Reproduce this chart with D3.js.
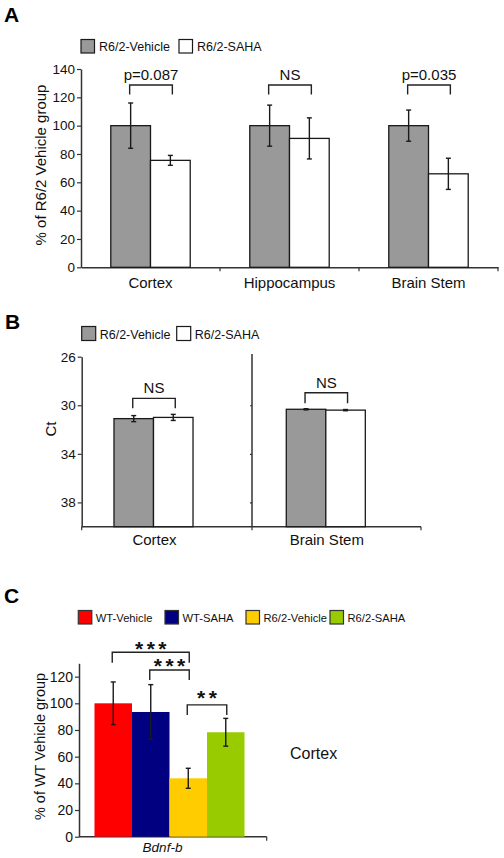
<!DOCTYPE html>
<html>
<head>
<meta charset="utf-8">
<script src="https://cdn.jsdelivr.net/npm/d3@7"></script>
<style>
  html, body { margin: 0; padding: 0; background: #fff; }
  svg { display: block; font-family: "Liberation Sans", Arial, Helvetica, sans-serif; }
</style>
</head>
<body>
<svg id="chart" width="504" height="858"></svg>
<script>
// ---------------- DATA ----------------
// Panel A
const catsA = ["Cortex", "Hippocampus", "Brain Stem"];
const seriesAB = ["R6/2-Vehicle", "R6/2-SAHA"];
const vehicleA = [100, 100, 100];
const vehicleErrA = [16, 14.5, 11];
const sahaA = [75.5, 91, 66];
const sahaErrA = [3.5, 14.5, 11];
const sigA = ["p=0.087", "NS", "p=0.035"];
const ticksA = [0, 20, 40, 60, 80, 100, 120, 140];

// Panel B
const catsB = ["Cortex", "Brain Stem"];
const vehicleB = [31.1, 30.33];
const vehicleErrB = [0.25, 0.05];
const sahaB = [31.0, 30.4];
const sahaErrB = [0.25, 0.05];
const sigB = ["NS", "NS"];
const ticksB = [26, 30, 34, 38];

// Panel C
const groupC = ["Bdnf-b"];
const seriesC = ["WT-Vehicle", "WT-SAHA", "R6/2-Vehicle", "R6/2-SAHA"];
const valuesC = [100, 93.5, 43.8, 78.3];
const errC = [16, 20.5, 7.5, 10.4];
const sigC = ["***", "***", "**"];
const sigPairsC = [[0, 2], [1, 2], [2, 3]];
const ticksC = [0, 20, 40, 60, 80, 100, 120];

// ---------------- STYLE / LAYOUT ----------------
const colorsAB = ["#999999", "#ffffff"];
const colorsC = ["#ff0000", "#000080", "#ffcc00", "#99cc00"];
const ink = "#1a1a1a";
const axisInk = "#333";

const svg = d3.select("#chart");

function styleAxis(g) {
  g.selectAll("path.domain").attr("stroke", axisInk).attr("stroke-width", 1.5);
  g.selectAll(".tick line").attr("stroke", axisInk).attr("stroke-width", 1.2);
  g.selectAll(".tick text").attr("fill", "#111").attr("font-size", 13.5)
    .attr("font-family", '"Liberation Sans", Arial, sans-serif');
}

function errorBar(g, x, y0, y1, capW) {
  g.append("line").attr("x1", x).attr("x2", x).attr("y1", y0).attr("y2", y1)
    .attr("stroke", ink).attr("stroke-width", 1.4);
  [y0, y1].forEach(yy => g.append("line").attr("x1", x - capW / 2).attr("x2", x + capW / 2)
    .attr("y1", yy).attr("y2", yy).attr("stroke", ink).attr("stroke-width", 1.4));
}

function bracket(g, xa, xb, yTop, yEnd) {
  g.append("path")
    .attr("d", `M${xa},${yEnd}V${yTop}H${xb}V${yEnd}`)
    .attr("fill", "none").attr("stroke", "#222").attr("stroke-width", 1.4);
}

function panelLetter(txt, x, y) {
  svg.append("text").attr("x", x).attr("y", y).text(txt)
    .attr("font-size", 21).attr("font-weight", "bold").attr("fill", "#000");
}

function legend(items, colors, xs, y, size, fontSize, stroke, gap) {
  const g = svg.append("g");
  items.forEach((name, i) => {
    g.append("rect").attr("x", xs[i]).attr("y", y).attr("width", size).attr("height", size)
      .attr("fill", colors[i]).attr("stroke", stroke).attr("stroke-width", 1.2);
    g.append("text").attr("x", xs[i] + size + gap).attr("y", y + size - 2)
      .attr("font-size", fontSize).attr("fill", "#111").text(name);
  });
}

// ================= PANEL A =================
panelLetter("A", 4, 22);
legend(seriesAB, colorsAB, [81, 179], 39.5, 13.5, 12.5, ink, 4.5);

const yA = d3.scaleLinear().domain([0, 140]).range([267.3, 69]);
const xA = d3.scaleBand().domain(catsA).range([81, 498]);
const xAi = d3.scaleBand().domain(seriesAB).range([0, xA.bandwidth()]).paddingInner(0).paddingOuter(0.75);

const gAy = svg.append("g").attr("transform", "translate(81,0)")
  .call(d3.axisLeft(yA).tickValues(ticksA).tickSize(4).tickSizeOuter(0).tickPadding(2));
styleAxis(gAy);
const gAx = svg.append("g").attr("transform", `translate(0,${yA(0)})`)
  .call(d3.axisBottom(xA).tickSize(0).tickSizeOuter(0).tickFormat(""));
styleAxis(gAx);
// category boundary ticks
const bndA = catsA.map(c => xA(c)).concat([xA(catsA[catsA.length - 1]) + xA.bandwidth()]);
bndA.forEach((bx, i) => { if (i > 0) svg.append("line").attr("x1", bx).attr("x2", bx)
  .attr("y1", yA(0)).attr("y2", yA(0) + 4).attr("stroke", axisInk).attr("stroke-width", 1.2); });

const gA = svg.append("g");
catsA.forEach((c, i) => {
  const vals = [vehicleA[i], sahaA[i]], errs = [vehicleErrA[i], sahaErrA[i]];
  seriesAB.forEach((s, j) => {
    const x0 = xA(c) + xAi(s);
    gA.append("rect").attr("x", x0).attr("y", yA(vals[j])).attr("width", xAi.bandwidth())
      .attr("height", yA(0) - yA(vals[j])).attr("fill", colorsAB[j])
      .attr("stroke", ink).attr("stroke-width", 1.3);
  });
  seriesAB.forEach((s, j) => {
    const xc = xA(c) + xAi(s) + xAi.bandwidth() / 2;
    errorBar(gA, xc, yA(vals[j] - errs[j]), yA(vals[j] + errs[j]), 5);
  });
  const xa = xA(c) + xAi(seriesAB[0]) + xAi.bandwidth() / 2 - 1;
  const xb = xA(c) + xAi(seriesAB[1]) + xAi.bandwidth() / 2 + 2;
  bracket(gA, xa, xb, yA(128.7), yA(122));
  gA.append("text").attr("x", (xa + xb) / 2).attr("y", yA(132.3)).attr("text-anchor", "middle")
    .attr("font-size", 15).attr("fill", "#111").text(sigA[i]);
  gA.append("text").attr("x", xA(c) + xAi(seriesAB[1])).attr("y", 288).attr("text-anchor", "middle")
    .attr("font-size", 15).attr("fill", "#111").text(c);
});
svg.append("text").attr("transform", "translate(46,165) rotate(-90)").attr("text-anchor", "middle")
  .attr("font-size", 15).attr("fill", "#111").text("% of R6/2 Vehicle group");

// ================= PANEL B =================
panelLetter("B", 5, 329);
legend(seriesAB, colorsAB, [81.7, 176.7], 326.5, 14, 12.5, ink, 4);

const yB = d3.scaleLinear().domain([26, 40]).range([356.7, 526.7]);
const xB = d3.scaleBand().domain(catsB).range([67.35, 411.95]);
const xBi = d3.scaleBand().domain(seriesAB).range([0, xB.bandwidth()]).paddingInner(0).paddingOuter(1.18);

const frameB = [81.7, 252, 421];
const gBy = svg.append("g").attr("transform", `translate(${frameB[0]},0)`)
  .call(d3.axisLeft(yB).tickValues(ticksB).tickSize(4).tickSizeOuter(0).tickPadding(2));
styleAxis(gBy);
// divider axis
const gBd = svg.append("g").attr("transform", `translate(${frameB[1]},0)`)
  .call(d3.axisLeft(yB).tickValues(ticksB.slice(1)).tickSize(2).tickSizeOuter(0).tickFormat(""));
styleAxis(gBd);
gBd.select("path.domain").remove();
svg.append("line").attr("x1", frameB[1]).attr("x2", frameB[1]).attr("y1", 354).attr("y2", yB(40))
  .attr("stroke", axisInk).attr("stroke-width", 1.5);
svg.append("line").attr("x1", frameB[0]).attr("x2", frameB[2]).attr("y1", yB(40)).attr("y2", yB(40))
  .attr("stroke", axisInk).attr("stroke-width", 1.5);
frameB.forEach(bx => svg.append("line").attr("x1", bx).attr("x2", bx).attr("y1", yB(40)).attr("y2", yB(40) + 3.5)
  .attr("stroke", axisInk).attr("stroke-width", 1.2));

const gB = svg.append("g");
const bracketB = [[29.43, 30.25, 28.99], [28.97, 29.84, 28.58]];
catsB.forEach((c, i) => {
  const vals = [vehicleB[i], sahaB[i]], errs = [vehicleErrB[i], sahaErrB[i]];
  seriesAB.forEach((s, j) => {
    gB.append("rect").attr("x", xB(c) + xBi(s)).attr("y", yB(vals[j])).attr("width", xBi.bandwidth())
      .attr("height", yB(40) - yB(vals[j])).attr("fill", colorsAB[j])
      .attr("stroke", ink).attr("stroke-width", 1.3);
  });
  seriesAB.forEach((s, j) => {
    const xc = xB(c) + xBi(s) + xBi.bandwidth() / 2;
    errorBar(gB, xc, yB(vals[j] + errs[j]), yB(vals[j] - errs[j]), 5);
  });
  const xa = xB(c) + xBi(seriesAB[0]) + xBi.bandwidth() / 2 - 1;
  const xb = xB(c) + xBi(seriesAB[1]) + xBi.bandwidth() / 2 + 2;
  bracket(gB, xa, xb, yB(bracketB[i][0]), yB(bracketB[i][1]));
  gB.append("text").attr("x", (xa + xb) / 2).attr("y", yB(bracketB[i][2])).attr("text-anchor", "middle")
    .attr("font-size", 15).attr("fill", "#111").text(sigB[i]);
  gB.append("text").attr("x", xB(c) + xB.bandwidth() / 2 + 1).attr("y", 545).attr("text-anchor", "middle")
    .attr("font-size", 15).attr("fill", "#111").text(c);
});
svg.append("text").attr("transform", "translate(56,429) rotate(-90)").attr("text-anchor", "middle")
  .attr("font-size", 15).attr("fill", "#111").text("Ct");

// ================= PANEL C =================
panelLetter("C", 4, 603);
legend(seriesC, colorsC, [78.3, 165, 246, 330], 610.5, 13.5, 11.2, "#333", 4);

const yC = d3.scaleLinear().domain([0, 130]).range([836.7, 663.3]);
const xC = d3.scaleBand().domain(groupC).range([79, 260]);
const xCi = d3.scaleBand().domain(seriesC).range([0, xC.bandwidth()]).paddingInner(0).paddingOuter(0.413);

const gCy = svg.append("g").attr("transform", "translate(79,0)")
  .call(d3.axisLeft(yC).tickValues(ticksC).tickSize(4).tickSizeOuter(0).tickPadding(2));
styleAxis(gCy);
gCy.selectAll(".tick text").attr("font-size", 14);
svg.append("line").attr("x1", 79).attr("x2", 266.7).attr("y1", yC(0)).attr("y2", yC(0))
  .attr("stroke", axisInk).attr("stroke-width", 1.5);
svg.append("line").attr("x1", 266.7).attr("x2", 266.7).attr("y1", yC(0)).attr("y2", yC(0) + 4)
  .attr("stroke", axisInk).attr("stroke-width", 1.2);

const gC = svg.append("g");
const cx = s => xC(groupC[0]) + xCi(s) + xCi.bandwidth() / 2;
seriesC.forEach((s, j) => {
  gC.append("rect").attr("x", xC(groupC[0]) + xCi(s)).attr("y", yC(valuesC[j]))
    .attr("width", xCi.bandwidth()).attr("height", yC(0) - yC(valuesC[j])).attr("fill", colorsC[j]);
});
seriesC.forEach((s, j) => {
  errorBar(gC, cx(s), yC(valuesC[j] - errC[j]), yC(valuesC[j] + errC[j]), 5);
});
const bracketC = [[138.3, 130.5, 143.0], [125, 117.5, 130], [98.8, 91.3, 106]];
sigPairsC.forEach((p, k) => {
  const xa = cx(seriesC[p[0]]) - 1, xb = cx(seriesC[p[1]]) + 1;
  bracket(gC, xa, xb, yC(bracketC[k][0]), yC(bracketC[k][1]));
  gC.append("text").attr("x", (xa + xb) / 2 + 1.75).attr("y", yC(bracketC[k][2]))
    .attr("dy", "0.1em").attr("text-anchor", "middle").attr("dominant-baseline", "central")
    .attr("font-size", 21).attr("font-weight", "bold").attr("letter-spacing", 3.5)
    .attr("fill", "#111").text(sigC[k]);
});
svg.append("text").attr("x", xC(groupC[0]) + xC.bandwidth() / 2 - 7).attr("y", 851.5)
  .attr("text-anchor", "middle").attr("font-size", 13.5).attr("font-style", "italic")
  .attr("fill", "#111").text(groupC[0]);
svg.append("text").attr("x", 290).attr("y", 759).attr("font-size", 16).attr("fill", "#111").text("Cortex");
svg.append("text").attr("transform", "translate(45,746.5) rotate(-90)").attr("text-anchor", "middle")
  .attr("font-size", 14.5).attr("fill", "#111").text("% of WT Vehicle group");
</script>
</body>
</html>
